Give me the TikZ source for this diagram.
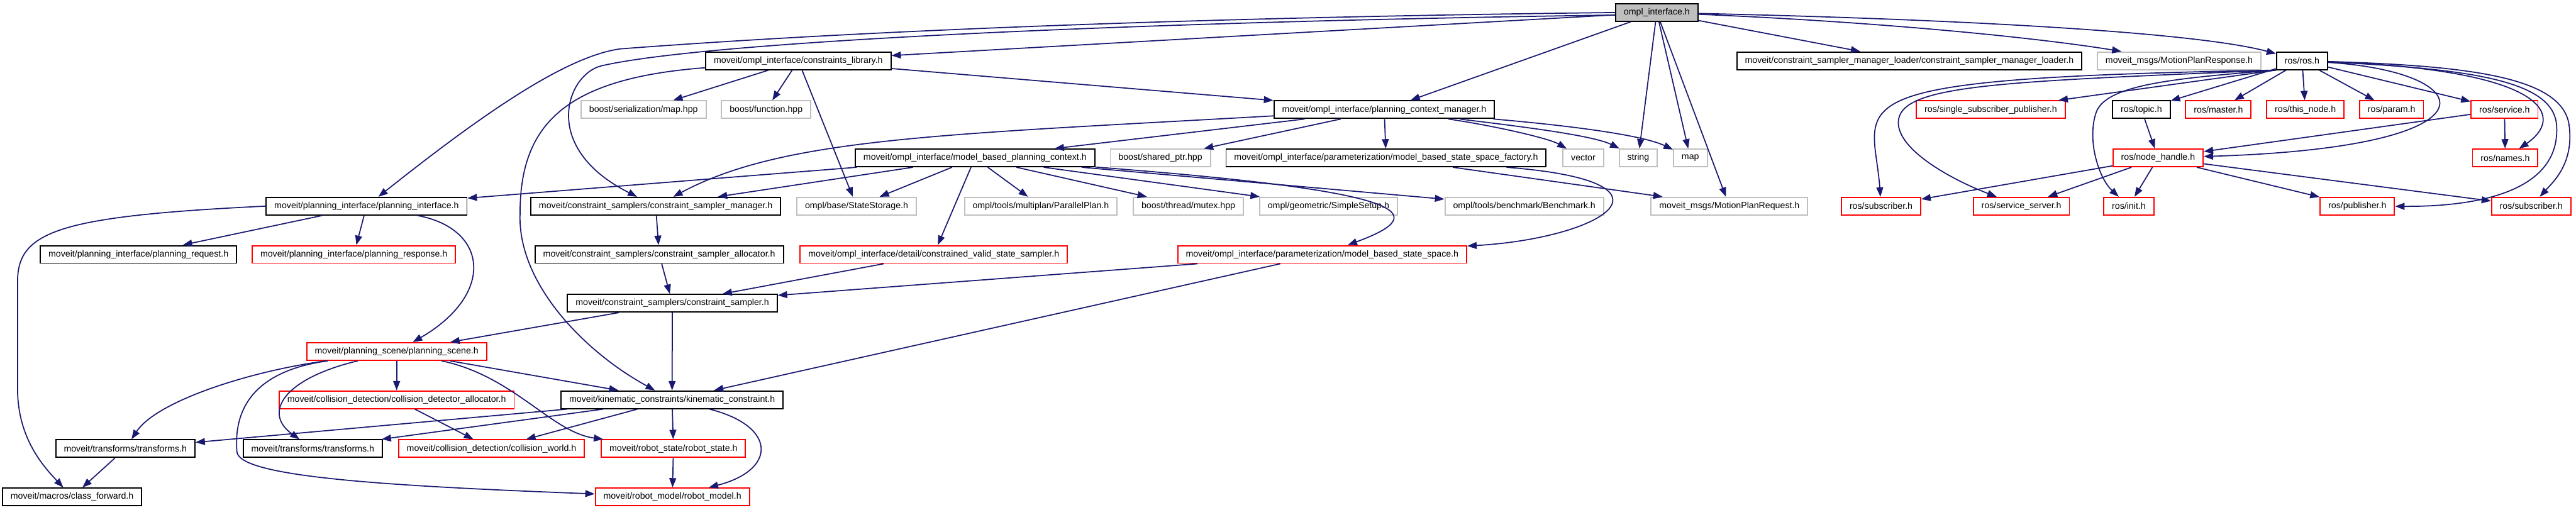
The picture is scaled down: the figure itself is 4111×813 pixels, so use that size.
\documentclass[tikz,border=0pt]{standalone}
\usepackage{fontspec}
\setmainfont{Liberation Sans}
\usepackage{tikz}
\usetikzlibrary{arrows.meta, positioning}
\definecolor{edgeblue}{RGB}{25,25,112}
\definecolor{extgray}{RGB}{191,191,191}

\begin{document}
\begin{tikzpicture}[
    x=0.1mm, y=-0.1mm,
    hdr/.style={rectangle, draw=black, line width=0.55pt, fill=white, minimum height=2.8mm, inner xsep=1.3mm, inner ysep=0pt, font=\fontsize{4.05pt}{5pt}\selectfont},
    hdrext/.style={hdr, draw=extgray},
    hdrcut/.style={hdr, draw=red},
    hdrroot/.style={hdr, fill=extgray},
    incl/.style={draw=edgeblue, line width=0.5pt, -{Triangle[length=1.5mm, width=1.1mm]}}
]
    \useasboundingbox (0,0) rectangle (4111,813);

    % the file itself
    \node[hdrroot] (root) at (2644,20) {ompl\_interface.h};

    % row 1
    \node[hdr] (conslib) at (1274,97) {moveit/ompl\_interface/constraints\_library.h};
    \node[hdr] (smload) at (3047,97) {moveit/constraint\_sampler\_manager\_loader/constraint\_sampler\_manager\_loader.h};
    \node[hdrext, right=2.3mm of smload] (mpres) {moveit\_msgs/MotionPlanResponse.h};
    \node[hdr, right=2.3mm of mpres] (rosh) {ros/ros.h};

    % row 2
    \node[hdrext] (sermap) at (1027,175) {boost/serialization/map.hpp};
    \node[hdrext, right=2.3mm of sermap] (bfunc) {boost/function.hpp};
    \node[hdr] (pcm) at (2209,175) {moveit/ompl\_interface/planning\_context\_manager.h};
    \node[hdrcut] (ssp) at (3177,175) {ros/single\_subscriber\_publisher.h};
    \node[hdr, right=7.4mm of ssp] (topic) {ros/topic.h};
    \node[hdrcut, right=2.3mm of topic] (master) {ros/master.h};
    \node[hdrcut, right=2.3mm of master] (thisnode) {ros/this\_node.h};
    \node[hdrcut, right=2.3mm of thisnode] (param) {ros/param.h};
    \node[hdrcut, right=7.4mm of param] (service) {ros/service.h};

    % row 3
    \node[hdr] (mbpc) at (1556,252) {moveit/ompl\_interface/model\_based\_planning\_context.h};
    \node[hdrext, right=2.3mm of mbpc] (shptr) {boost/shared\_ptr.hpp};
    \node[hdr, right=2.3mm of shptr] (mbssf) {moveit/ompl\_interface/parameterization/model\_based\_state\_space\_factory.h};
    \node[hdrext, right=2.5mm of mbssf] (vector) {vector};
    \node[hdrext, right=2.3mm of vector] (string) {string};
    \node[hdrext, right=2.4mm of string] (map) {map};
    \node[hdrcut] (nodeh) at (3444,252) {ros/node\_handle.h};
    \node[hdrcut] (names) at (3998,252) {ros/names.h};

    % row 4
    \node[hdr] (planif) at (585,329) {moveit/planning\_interface/planning\_interface.h};
    \node[hdr, right=10mm of planif] (csm) {moveit/constraint\_samplers/constraint\_sampler\_manager.h};
    \node[hdrext, right=2.4mm of csm] (ststor) {ompl/base/StateStorage.h};
    \node[hdrext, right=7.5mm of ststor] (parplan) {ompl/tools/multiplan/ParallelPlan.h};
    \node[hdrext, right=2.4mm of parplan] (mutex) {boost/thread/mutex.hpp};
    \node[hdrext, right=2.4mm of mutex] (simset) {ompl/geometric/SimpleSetup.h};
    \node[hdrext, right=7.4mm of simset] (bench) {ompl/tools/benchmark/Benchmark.h};
    \node[hdrext, right=7.4mm of bench] (mpreq) {moveit\_msgs/MotionPlanRequest.h};
    \node[hdrcut] (suba) at (3002,329) {ros/subscriber.h};
    \node[hdrcut, right=8.2mm of suba] (srvsrv) {ros/service\_server.h};
    \node[hdrcut, right=5.3mm of srvsrv] (init) {ros/init.h};
    \node[hdrcut] (pub) at (3762,329) {ros/publisher.h};
    \node[hdrcut, right=15.3mm of pub] (subb) {ros/subscriber.h};

    % row 5
    \node[hdr] (preq) at (221,406) {moveit/planning\_interface/planning\_request.h};
    \node[hdrcut, right=2.3mm of preq] (pres) {moveit/planning\_interface/planning\_response.h};
    \node[hdr] (csa) at (1052,406) {moveit/constraint\_samplers/constraint\_sampler\_allocator.h};
    \node[hdrcut, right=2.5mm of csa] (cvss) {moveit/ompl\_interface/detail/constrained\_valid\_state\_sampler.h};
    \node[hdrcut] (mbss) at (2110,406) {moveit/ompl\_interface/parameterization/model\_based\_state\_space.h};

    % rows 6 to 10
    \node[hdr] (cs) at (1073,484) {moveit/constraint\_samplers/constraint\_sampler.h};
    \node[hdrcut] (pscene) at (633,561) {moveit/planning\_scene/planning\_scene.h};
    \node[hdrcut] (cda) at (633,638) {moveit/collision\_detection/collision\_detector\_allocator.h};
    \node[hdr, right=7.3mm of cda] (kc) {moveit/kinematic\_constraints/kinematic\_constraint.h};
    \node[hdr] (tfa) at (200,716) {moveit/transforms/transforms.h};
    \node[hdr, right=7.5mm of tfa] (tfb) {moveit/transforms/transforms.h};
    \node[hdrcut, right=2.4mm of tfb] (cworld) {moveit/collision\_detection/collision\_world.h};
    \node[hdrcut, right=2.5mm of cworld] (rstate) {moveit/robot\_state/robot\_state.h};
    \node[hdr] (cfwd) at (115,793) {moveit/macros/class\_forward.h};
    \node[hdrcut] (rmodel) at (1073,793) {moveit/robot\_model/robot\_model.h};

    % includes of ompl_interface.h
    \draw[incl] (root) -- (conslib);
    \draw[incl] (root.west) .. controls (1700,30) and (1200,62) .. (990,78) .. controls (900,90) and (760,190) .. (planif);
    \draw[incl] ([yshift=-0.4mm]root.west) .. controls (1800,35) and (1130,66) .. (960,105) .. controls (905,118) and (860,235) .. (csm);
    \draw[incl] (root) -- (pcm);
    \draw[incl] (root) -- (string);
    \draw[incl] (root) -- (map);
    \draw[incl] (root) -- (mpreq);
    \draw[incl] (root) -- (smload);
    \draw[incl] (root) .. controls (3000,35) and (3250,60) .. (mpres);
    \draw[incl] (root) .. controls (3100,30) and (3500,50) .. (rosh);

    % constraints_library.h
    \draw[incl] (conslib) -- (sermap);
    \draw[incl] (conslib) -- (bfunc);
    \draw[incl] (conslib) -- (pcm);
    \draw[incl] (conslib) -- (ststor);
    \draw[incl] (conslib) .. controls (900,125) and (830,200) .. (830,340) .. controls (825,450) and (930,560) .. (kc);

    % planning_context_manager.h
    \draw[incl] (pcm) .. controls (1500,215) and (1250,220) .. (csm);
    \draw[incl] (pcm) -- (mbpc);
    \draw[incl] (pcm) -- (shptr);
    \draw[incl] (pcm) -- (mbssf);
    \draw[incl] (pcm) .. controls (2380,200) and (2470,220) .. (vector);
    \draw[incl] (pcm) .. controls (2410,200) and (2540,215) .. (string);
    \draw[incl] (pcm) .. controls (2500,200) and (2620,215) .. (map);

    % model_based_planning_context.h
    \draw[incl] (mbpc) -- (planif);
    \draw[incl] (mbpc) -- (csm);
    \draw[incl] (mbpc) -- (ststor);
    \draw[incl] (mbpc) -- (cvss);
    \draw[incl] (mbpc) -- (parplan);
    \draw[incl] (mbpc) -- (mutex);
    \draw[incl] (mbpc) -- (simset);
    \draw[incl] (mbpc) -- (bench);
    \draw[incl] (mbpc) .. controls (2250,305) and (2290,340) .. (mbss);
    \draw[incl] (mbssf) -- (mpreq);
    \draw[incl] (mbssf) .. controls (2700,290) and (2560,380) .. (mbss);

    % planning_interface.h
    \draw[incl] (planif.west) .. controls (90,345) and (28,370) .. (28,450) -- (28,620) .. controls (28,700) and (70,745) .. (cfwd);
    \draw[incl] (planif) -- (preq);
    \draw[incl] (planif) -- (pres);
    \draw[incl] (planif) .. controls (780,365) and (790,470) .. (pscene);

    % samplers
    \draw[incl] (csm) -- (csa);
    \draw[incl] (csa) -- (cs);
    \draw[incl] (cvss) -- (cs);
    \draw[incl] (mbss) -- (cs);
    \draw[incl] (mbss) -- (kc);
    \draw[incl] (cs) -- (pscene);
    \draw[incl] (cs) -- (kc);

    % planning_scene.h
    \draw[incl] (pscene) .. controls (400,592) and (250,640) .. (tfa);
    \draw[incl] (pscene) .. controls (450,605) and (420,660) .. (tfb);
    \draw[incl] (pscene) .. controls (420,590) and (372,640) .. (378,720) .. controls (378,760) and (600,775) .. (rmodel);
    \draw[incl] (pscene) -- (cda);
    \draw[incl] (pscene) .. controls (820,600) and (880,690) .. (rstate);
    \draw[incl] (pscene) -- (kc);
    \draw[incl] (cda) -- (cworld);

    % kinematic_constraint.h
    \draw[incl] (kc) -- (tfa);
    \draw[incl] (kc) -- (tfb);
    \draw[incl] (kc) -- (cworld);
    \draw[incl] (kc) -- (rstate);
    \draw[incl] (kc) .. controls (1240,680) and (1240,750) .. (rmodel);
    \draw[incl] (tfa) -- (cfwd);
    \draw[incl] (rstate) -- (rmodel);

    % ros/ros.h
    \draw[incl] (rosh.south west) -- (ssp);
    \draw[incl] (rosh) -- (topic);
    \draw[incl] (rosh) -- (master);
    \draw[incl] (rosh) -- (thisnode);
    \draw[incl] (rosh) -- (param);
    \draw[incl] (rosh) -- (service);
    \draw[incl] (rosh) .. controls (3960,115) and (4000,235) .. (nodeh);
    \draw[incl] (rosh) .. controls (4080,112) and (4090,190) .. (names);
    \draw[incl] (rosh.south west) .. controls (2900,125) and (2990,160) .. (suba);
    \draw[incl] (rosh.south west) .. controls (3200,130) and (3040,135) .. (3030,190) .. controls (3022,235) and (3110,285) .. (srvsrv);
    \draw[incl] (rosh.south west) .. controls (3470,125) and (3360,135) .. (3345,180) .. controls (3330,225) and (3350,285) .. (init);
    \draw[incl] (rosh) .. controls (3950,110) and (4075,130) .. (4080,200) .. controls (4086,290) and (3990,330) .. (pub);
    \draw[incl] (rosh) .. controls (3950,105) and (4090,125) .. (4100,200) .. controls (4108,260) and (4075,290) .. (subb);

    % ros/node_handle.h and friends
    \draw[incl] (topic) -- (nodeh);
    \draw[incl] (service) -- (nodeh);
    \draw[incl] (service) -- (names);
    \draw[incl] (nodeh) -- (suba);
    \draw[incl] (nodeh) -- (srvsrv);
    \draw[incl] (nodeh) -- (init);
    \draw[incl] (nodeh) -- (pub);
    \draw[incl] (nodeh) -- (subb);
\end{tikzpicture}
\end{document}
